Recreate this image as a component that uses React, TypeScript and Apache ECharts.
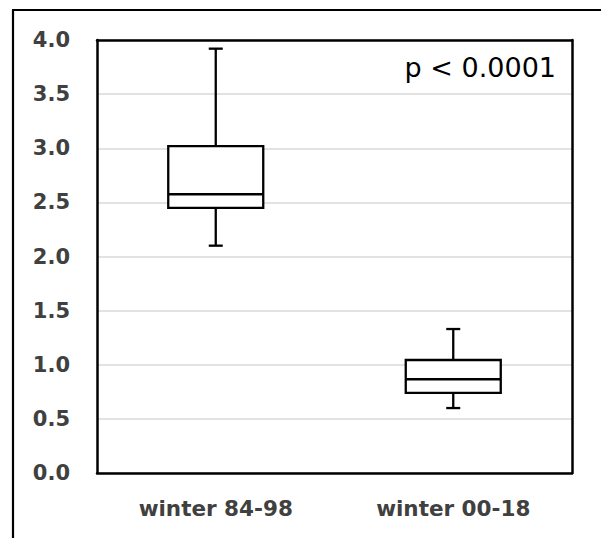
import React, { useEffect, useRef } from "react";
import * as echarts from "echarts";

const categories = ["winter 84-98", "winter 00-18"];
// [min, Q1, median, Q3, max]
const boxMin = [2.1, 0.6];
const boxQ1 = [2.45, 0.74];
const boxMedian = [2.575, 0.866];
const boxQ3 = [3.02, 1.044];
const boxMax = [3.92, 1.33];
const yTicks = { min: 0, max: 4, interval: 0.5 };
const annotation = "p < 0.0001";

export default function App() {
  const ref = useRef<HTMLDivElement>(null);
  useEffect(() => {
    if (!ref.current) return;
    const chart = echarts.init(ref.current, undefined, { renderer: "svg" });
    const data = categories.map((_, i) => [i, boxMin[i], boxQ1[i], boxMedian[i], boxQ3[i], boxMax[i]]);
    const lineStyle = { stroke: "#000", lineWidth: 2.3, fill: "none" };
    const frame = { show: true, onZero: false, lineStyle: { color: "#000", width: 2.5 } };
    chart.setOption({
      animation: false,
      grid: { left: 97, top: 40, right: 29, bottom: 65 },
      xAxis: [
        {
          type: "category",
          data: categories,
          boundaryGap: true,
          position: "bottom",
          axisLine: frame,
          axisTick: { show: false },
          splitLine: { show: false },
          axisLabel: {
            margin: 24,
            fontFamily: "DejaVu Sans",
            fontWeight: "bold",
            fontSize: 21.5,
            color: "#404040",
          },
          z: 5,
        },
        {
          type: "category",
          data: categories,
          position: "top",
          axisLine: frame,
          axisTick: { show: false },
          axisLabel: { show: false },
          splitLine: { show: false },
          z: 5,
        },
      ],
      yAxis: [
        {
          type: "value",
          min: yTicks.min,
          max: yTicks.max,
          interval: yTicks.interval,
          position: "left",
          axisLine: frame,
          axisTick: { show: false },
          splitLine: { show: true, lineStyle: { color: "#d9d9d9", width: 1.5 } },
          axisLabel: {
            margin: 27,
            fontFamily: "DejaVu Sans",
            fontWeight: "bold",
            fontSize: 21,
            color: "#404040",
            formatter: (v: number) => v.toFixed(1),
          },
        },
        {
          type: "value",
          min: yTicks.min,
          max: yTicks.max,
          interval: yTicks.interval,
          position: "right",
          axisLine: frame,
          axisTick: { show: false },
          axisLabel: { show: false },
          splitLine: { show: false },
          z: 5,
        },
      ],
      graphic: [
        { type: "line", shape: { x1: 13, y1: 10, x2: 13, y2: 540 }, style: { stroke: "#000", lineWidth: 2.2 } },
        { type: "line", shape: { x1: 12, y1: 10, x2: 603, y2: 10 }, style: { stroke: "#000", lineWidth: 2.2 } },
        {
          type: "text",
          x: 556,
          y: 67,
          style: {
            text: annotation,
            align: "right",
            verticalAlign: "middle",
            fontFamily: "DejaVu Sans",
            fontSize: 27,
            fill: "#000",
          },
        },
      ],
      series: [
        {
          type: "custom",
          data,
          xAxisIndex: 0,
          yAxisIndex: 0,
          encode: { x: 0, y: [1, 2, 3, 4, 5] },
          renderItem: (params: any, api: any) => {
            const xi = api.value(0);
            const pMin = api.coord([xi, api.value(1)]);
            const pQ1 = api.coord([xi, api.value(2)]);
            const pMed = api.coord([xi, api.value(3)]);
            const pQ3 = api.coord([xi, api.value(4)]);
            const pMax = api.coord([xi, api.value(5)]);
            const w = api.size([1, 0])[0] * 0.4;
            const cx = pMed[0];
            const cap = 7;
            return {
              type: "group",
              children: [
                { type: "line", shape: { x1: cx, y1: pQ3[1], x2: cx, y2: pMax[1] }, style: lineStyle },
                { type: "line", shape: { x1: cx - cap, y1: pMax[1], x2: cx + cap, y2: pMax[1] }, style: lineStyle },
                { type: "line", shape: { x1: cx, y1: pQ1[1], x2: cx, y2: pMin[1] }, style: lineStyle },
                { type: "line", shape: { x1: cx - cap, y1: pMin[1], x2: cx + cap, y2: pMin[1] }, style: lineStyle },
                {
                  type: "rect",
                  shape: { x: cx - w / 2, y: pQ3[1], width: w, height: pQ1[1] - pQ3[1] },
                  style: { stroke: "#000", lineWidth: 2.3, fill: "#fff" },
                },
                { type: "line", shape: { x1: cx - w / 2, y1: pMed[1], x2: cx + w / 2, y2: pMed[1] }, style: lineStyle },
              ],
            };
          },
        },
      ],
    });
    return () => chart.dispose();
  }, []);
  return <div ref={ref} style={{ width: 601, height: 538, position: "absolute", left: 0, top: 0 }} />;
}
